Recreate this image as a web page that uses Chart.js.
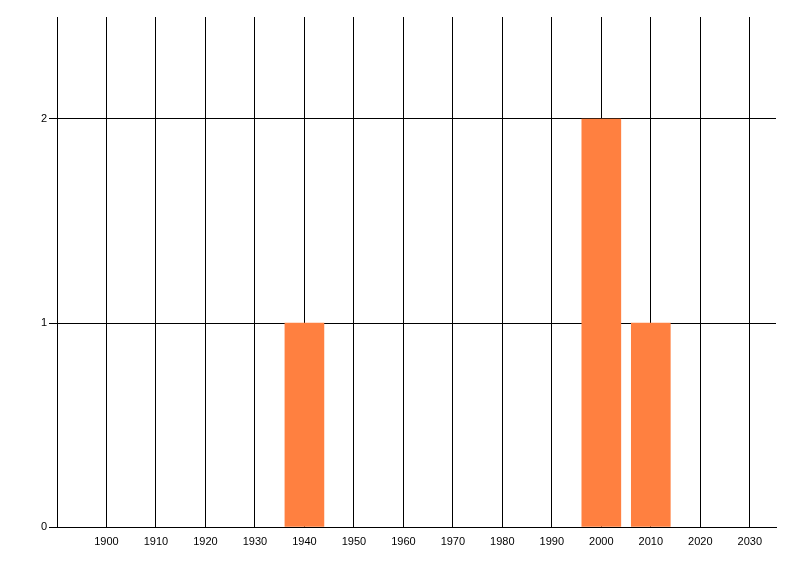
<!DOCTYPE html>
<html>
<head>
<meta charset="utf-8">
<script src="https://cdn.jsdelivr.net/npm/chart.js@4/dist/chart.umd.min.js"></script>
<style>
  html, body { margin: 0; padding: 0; background: #fff; }
  #wrap { width: 800px; height: 576px; }
</style>
</head>
<body>
<div id="wrap"><canvas id="chart" width="800" height="576"></canvas></div>
<script>
// values
const years = [1940, 2000, 2010];
const counts = [1, 2, 1];
const xTicks = [1890, 1900, 1910, 1920, 1930, 1940, 1950, 1960, 1970, 1980, 1990, 2000, 2010, 2020, 2030];
const yTicks = [0, 1, 2];

const ctx = document.getElementById('chart');
new Chart(ctx, {
  type: 'bar',
  data: {
    datasets: [{
      data: years.map((y, i) => ({ x: y, y: counts[i] })),
      backgroundColor: 'rgb(255, 128, 64)',
      borderWidth: 0,
      borderSkipped: false,
      barThickness: 39
    }]
  },
  options: {
    responsive: false,
    animation: false,
    layout: { padding: { top: 17, right: 24, bottom: 0, left: 0 } },
    plugins: { legend: { display: false }, tooltip: { enabled: false } },
    scales: {
      x: {
        type: 'linear',
        offset: false,
        min: 1890,
        max: 2035.3,
        afterBuildTicks: s => { s.ticks = xTicks.map(v => ({ value: v })); },
        afterFit: s => { s.height = 49; },
        grid: { color: '#000', lineWidth: 1, drawTicks: false, offset: false },
        border: { color: '#000', width: 1 },
        ticks: {
          padding: 8,
          color: '#000',
          font: { family: 'Liberation Sans', size: 11 },
          maxRotation: 0,
          callback: v => v === 1890 ? '' : String(v)
        }
      },
      y: {
        min: 0,
        max: 2.5,
        afterBuildTicks: s => { s.ticks = yTicks.map(v => ({ value: v })); },
        afterFit: s => { s.width = 57; },
        grid: { color: '#000', lineWidth: 1, drawTicks: true, tickLength: 8 },
        border: { color: '#000', width: 1 },
        ticks: {
          padding: 2,
          color: '#000',
          font: { family: 'Liberation Sans', size: 11 }
        }
      }
    }
  }
});
</script>
</body>
</html>
